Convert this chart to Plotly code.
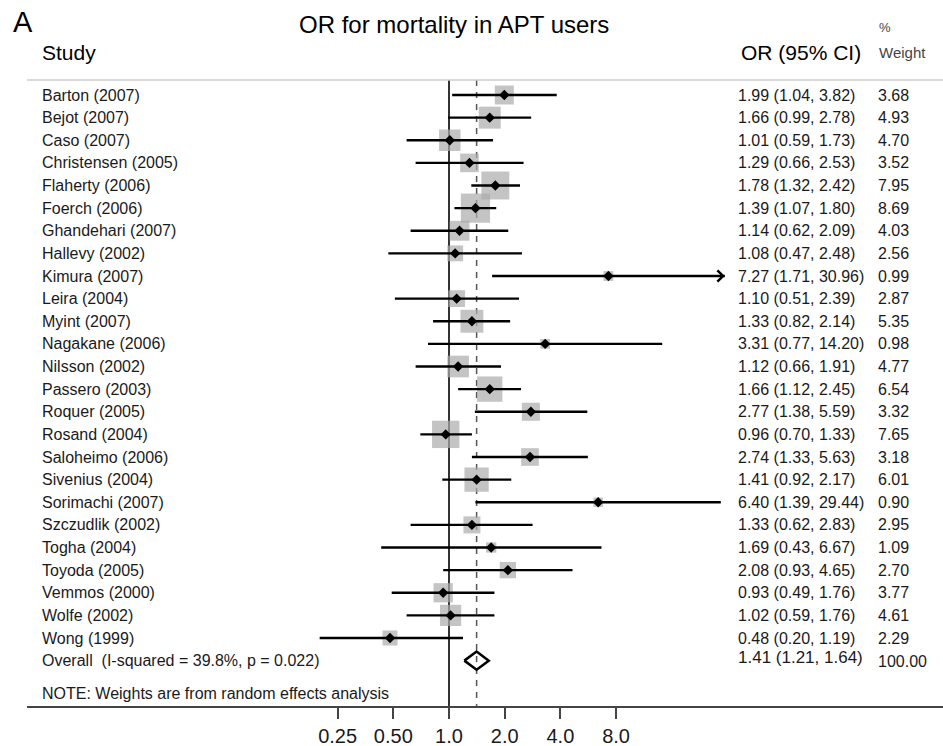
import math
import plotly.graph_objects as go

# ---------------- data ----------------
studies = ["Barton (2007)", "Bejot (2007)", "Caso (2007)", "Christensen (2005)",
           "Flaherty (2006)", "Foerch (2006)", "Ghandehari (2007)", "Hallevy (2002)",
           "Kimura (2007)", "Leira (2004)", "Myint (2007)", "Nagakane (2006)",
           "Nilsson (2002)", "Passero (2003)", "Roquer (2005)", "Rosand (2004)",
           "Saloheimo (2006)", "Sivenius (2004)", "Sorimachi (2007)", "Szczudlik (2002)",
           "Togha (2004)", "Toyoda (2005)", "Vemmos (2000)", "Wolfe (2002)", "Wong (1999)"]
or_est = [1.99, 1.66, 1.01, 1.29, 1.78, 1.39, 1.14, 1.08, 7.27, 1.10, 1.33, 3.31, 1.12,
          1.66, 2.77, 0.96, 2.74, 1.41, 6.40, 1.33, 1.69, 2.08, 0.93, 1.02, 0.48]
ci_low = [1.04, 0.99, 0.59, 0.66, 1.32, 1.07, 0.62, 0.47, 1.71, 0.51, 0.82, 0.77, 0.66,
          1.12, 1.38, 0.70, 1.33, 0.92, 1.39, 0.62, 0.43, 0.93, 0.49, 0.59, 0.20]
ci_high = [3.82, 2.78, 1.73, 2.53, 2.42, 1.80, 2.09, 2.48, 30.96, 2.39, 2.14, 14.20, 1.91,
           2.45, 5.59, 1.33, 5.63, 2.17, 29.44, 2.83, 6.67, 4.65, 1.76, 1.76, 1.19]
weights = [3.68, 4.93, 4.70, 3.52, 7.95, 8.69, 4.03, 2.56, 0.99, 2.87, 5.35, 0.98, 4.77,
           6.54, 3.32, 7.65, 3.18, 6.01, 0.90, 2.95, 1.09, 2.70, 3.77, 4.61, 2.29]
arrow_study = "Kimura (2007)"

overall_label = "Overall\u00a0\u00a0(I-squared = 39.8%, p = 0.022)"
overall_est, overall_low, overall_high = 1.41, 1.21, 1.64
overall_weight = "100.00"
note_text = "NOTE: Weights are from random effects analysis"

tick_vals = [0.25, 0.5, 1.0, 2.0, 4.0, 8.0]
tick_text = ["0.25", "0.50", "1.0", "2.0", "4.0", "8.0"]

title_text = "OR for mortality in APT users"
panel_label = "A"

# ---------------- layout helpers ----------------
W, H = 943, 746
ML, MR, MT, MB = 27, 0, 0, 40
PW = W - ML - MR
ROW0, ROWSTEP = 95.0, 22.625
X_ONE_PX, PX_PER_DOUBLING = 449.0, 55.7


def xp(p):
    return (p - ML) / PW


def yr(p):
    return (p - ROW0) / ROWSTEP


def xlog(p):
    return (p - X_ONE_PX) / PX_PER_DOUBLING * math.log10(2)


n = len(studies)
rows = list(range(n))
overall_row = n

fig = go.Figure()

TXT = "#1a1a1a"
FONT = "Liberation Sans, Arial, sans-serif"

# reference lines
y_top, y_bot = yr(80), yr(706)
fig.add_trace(go.Scatter(x=[1, 1], y=[y_top, y_bot], mode="lines",
                         line=dict(color="#333333", width=2), hoverinfo="skip"))
fig.add_trace(go.Scatter(x=[overall_est, overall_est], y=[y_top, y_bot], mode="lines",
                         line=dict(color="#555555", width=1.5, dash="6px,6px"), hoverinfo="skip"))

# weight squares
fig.add_trace(go.Scatter(x=or_est, y=rows, mode="markers",
                         marker=dict(symbol="square", color="#ababab",
                                     size=[9.9 * math.sqrt(w) for w in weights],
                                     line=dict(width=0)),
                         hoverinfo="skip"))

# CI lines
cx, cy = [], []
for lo, hi, r in zip(ci_low, ci_high, rows):
    cx += [lo, hi, None]
    cy += [r, r, None]
fig.add_trace(go.Scatter(x=cx, y=cy, mode="lines", line=dict(color="black", width=2.4),
                         hoverinfo="skip"))

# point estimates
fig.add_trace(go.Scatter(x=or_est, y=rows, mode="markers",
                         marker=dict(symbol="diamond", color="black", size=8),
                         hoverinfo="skip"))

# overall diamond
dh = 0.4
fig.add_trace(go.Scatter(x=[overall_low, overall_est, overall_high, overall_est, overall_low],
                         y=[overall_row, overall_row - dh, overall_row, overall_row + dh, overall_row],
                         mode="lines", line=dict(color="black", width=2.5), hoverinfo="skip"))

annotations = []

# arrow for truncated CI
k = studies.index(arrow_study)
annotations.append(dict(x=math.log10(ci_high[k]), y=rows[k], ax=math.log10(ci_low[k]), ay=rows[k],
                        xref="x", yref="y", axref="x", ayref="y", text="", showarrow=True,
                        arrowhead=4, arrowsize=1, arrowwidth=2.2, arrowcolor="black", standoff=0))


def txt(text, xpx, ypos, size, color=TXT, anchor="left"):
    annotations.append(dict(x=xp(xpx), y=ypos, xref="paper", yref="y", text=text,
                            showarrow=False, xanchor=anchor, yanchor="middle",
                            font=dict(size=size, color=color, family=FONT)))


for s, r in zip(studies, rows):
    txt(s, 40, r, 16)
for e, lo, hi, w, r in zip(or_est, ci_low, ci_high, weights, rows):
    txt(f"{e:.2f} ({lo:.2f}, {hi:.2f})", 736, r, 16)
    txt(f"{w:.2f}", 876, r, 16)

txt(overall_label, 40, overall_row, 16)
txt(f"{overall_est:.2f} ({overall_low:.2f}, {overall_high:.2f})", 736, overall_row - 0.12, 17)
txt(overall_weight, 876, overall_row + 0.05, 16)
txt(note_text, 40, yr(693), 16)

# headers
txt(panel_label, 11, yr(22), 29, color="black")
txt(title_text, 297, yr(24), 24, color="black")
txt("Study", 40, yr(52), 21, color="black")
txt("OR (95% CI)", 739, yr(52), 21, color="black")
txt("%", 877, yr(27), 13, color="#444444")
txt("Weight", 877, yr(52), 15, color="#444444")

shapes = [dict(type="line", xref="paper", yref="y", x0=0, x1=1, y0=y_top, y1=y_top,
               line=dict(color="#cccccc", width=1.5))]

fig.update_layout(
    width=W, height=H,
    margin=dict(l=ML, r=MR, t=MT, b=MB),
    paper_bgcolor="white", plot_bgcolor="white",
    showlegend=False,
    font=dict(family=FONT, color=TXT),
    annotations=annotations,
    shapes=shapes,
    xaxis=dict(type="log", range=[xlog(ML), xlog(W - MR)], tickvals=tick_vals, ticktext=tick_text,
               showgrid=False, zeroline=False, showline=True, linecolor="#444444", linewidth=2,
               ticks="outside", ticklen=11, tickwidth=2, tickcolor="#444444",
               tickfont=dict(size=20, color=TXT, family=FONT)),
    yaxis=dict(range=[yr(H - MB), yr(MT)], showgrid=False, zeroline=False, showline=False,
               showticklabels=False, ticks=""),
)

fig.write_html("out.html", config={"displayModeBar": False},
               post_script="document.body.style.margin='0';document.body.style.overflow='hidden';")
